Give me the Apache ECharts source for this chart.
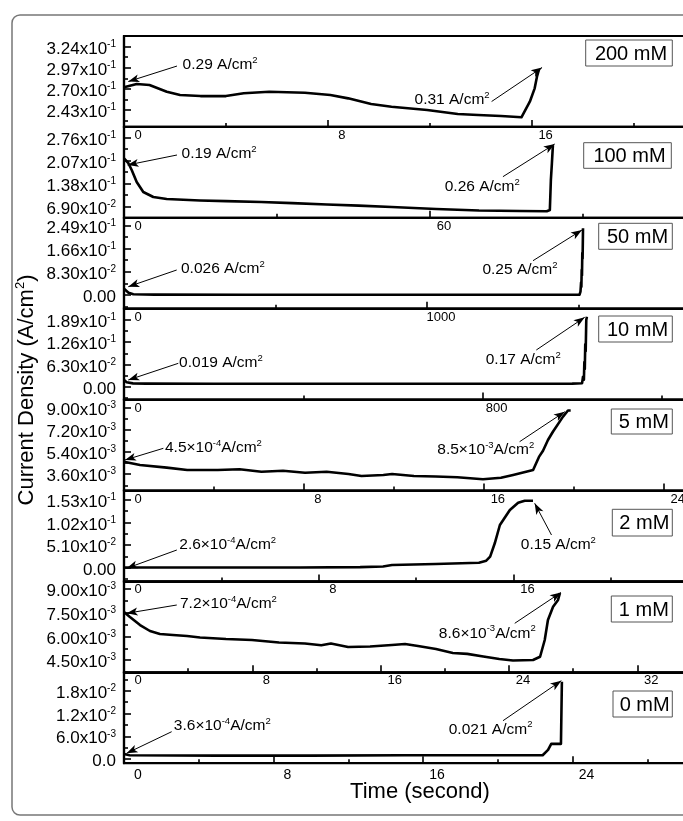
<!DOCTYPE html>
<html><head><meta charset="utf-8">
<script src="https://cdn.jsdelivr.net/npm/echarts@6/dist/echarts.min.js"></script>
<style>html,body{margin:0;padding:0;background:#fff;}#c{width:683px;height:821px;}</style>
</head><body><div id="c"></div>
<script>
const FONT = "'Liberation Sans', Arial, Helvetica, sans-serif";

const concLabels = ['200 mM','100 mM','50 mM','10 mM','5 mM','2 mM','1 mM','0 mM'];

// ---- 200 mM ----
const time200 = [0, 0.5, 1.0, 1.68, 2.2, 3.0, 4.0, 4.7, 5.7, 7.1, 8.1, 8.8, 9.7, 10.5, 11.9, 13.1, 13.9, 14.8, 15.6, 15.93, 16.12, 16.21, 16.29];
const dens200 = [0.2721, 0.2763, 0.2750, 0.2665, 0.2623, 0.2610, 0.2610, 0.2645, 0.2665, 0.2653, 0.2623, 0.2581, 0.2509, 0.2475, 0.2433, 0.2382, 0.2369, 0.2356, 0.2340, 0.2538, 0.2708, 0.2856, 0.2950];
const yRange200 = [0.2218, 0.3374];
const yTicks200 = [0.243, 0.270, 0.297, 0.324];
const yMinor200 = [0.2295, 0.2565, 0.2835, 0.3105];
const yLabels200 = ['2.43x10^{-1}', '2.70x10^{-1}', '2.97x10^{-1}', '3.24x10^{-1}'];
const xRange200 = [0, 22.61];
const xTicks200 = [0, 8, 16];
const xMinor200 = [4, 12, 20];
const notes200 = [
  {text: '0.29 A/cm^{2}', at: [2.28, 0.3005], align: 'left', from: [2.08, 0.2992], to: [0.17, 0.2795]},
  {text: '0.31 A/cm^{2}', at: [14.37, 0.2560], align: 'right', from: [14.43, 0.2541], to: [16.41, 0.2973]}
];

// ---- 100 mM ----
const time100 = [0, 0.84, 1.51, 2.49, 3.78, 5.75, 8.37, 14.9, 20, 26.9, 33, 39.8, 46, 52.5, 61.2, 69.6, 77.6, 82.9, 83.5, 83.7, 83.9, 84.1];
const dens100 = [0.2136, 0.1995, 0.1785, 0.1425, 0.1125, 0.0975, 0.0915, 0.0870, 0.0850, 0.0825, 0.0790, 0.0750, 0.0715, 0.0675, 0.0615, 0.0570, 0.0555, 0.0546, 0.0585, 0.1485, 0.1986, 0.2532];
const yRange100 = [0.0351, 0.3078];
const yTicks100 = [0.069, 0.138, 0.207, 0.276];
const yMinor100 = [0.1035, 0.1725, 0.2415];
const yLabels100 = ['6.90x10^{-2}', '1.38x10^{-1}', '2.07x10^{-1}', '2.76x10^{-1}'];
const xRange100 = [0, 112.94];
const xTicks100 = [0, 60];
const xMinor100 = [30, 90];
const notes100 = [
  {text: '0.19 A/cm^{2}', at: [11.18, 0.2265], align: 'left', from: [10.39, 0.2235], to: [0.69, 0.1935]},
  {text: '0.26 A/cm^{2}', at: [77.7, 0.1284], align: 'right', from: [74.3, 0.1584], to: [84.45, 0.2565]}
];

// ---- 50 mM ----
const time50 = [0, 3, 15, 31, 100, 400, 800, 1200, 1504, 1507, 1509, 1510, 1511, 1512, 1513, 1514, 1515.4];
const dens50 = [0.022, 0.020, 0.008, 0.0025, 0.0015, 0.001, 0.001, 0.001, 0.001, 0.012, 0.045, 0.03, 0.09, 0.07, 0.15, 0.13, 0.239];
const yRange50 = [-0.0491, 0.2766];
const yTicks50 = [0, 0.083, 0.166, 0.249];
const yMinor50 = [-0.0415, 0.0415, 0.1245, 0.2075];
const yLabels50 = ['0.00', '8.30x10^{-2}', '1.66x10^{-1}', '2.49x10^{-1}'];
const xRange50 = [0, 1901.6];
const xTicks50 = [0, 1000];
const xMinor50 = [500, 1500];
const notes50 = [
  {text: '0.026 A/cm^{2}', at: [186.5, 0.0932], align: 'left', from: [174, 0.0896], to: [14.2, 0.0298]},
  {text: '0.25 A/cm^{2}', at: [1432.8, 0.0896], align: 'right', from: [1350.3, 0.1229], to: [1512, 0.2329]}
];

// ---- 10 mM ----
const time10 = [0, 6, 20, 50, 200, 500, 800, 1000, 1022, 1024, 1026, 1027, 1028, 1029, 1030, 1031.3, 1032.7];
const dens10 = [0.019, 0.0125, 0.0095, 0.0088, 0.0085, 0.0085, 0.0085, 0.0088, 0.010, 0.028, 0.02, 0.07, 0.05, 0.12, 0.10, 0.1885, 0.1978];
const yRange10 = [-0.0364, 0.2204];
const yTicks10 = [0, 0.063, 0.126, 0.189];
const yMinor10 = [-0.0315, 0.0315, 0.0945, 0.1575];
const yLabels10 = ['0.00', '6.30x10^{-2}', '1.26x10^{-1}', '1.89x10^{-1}'];
const xRange10 = [0, 1285];
const xTicks10 = [0, 800];
const xMinor10 = [400, 1200];
const notes10 = [
  {text: '0.019 A/cm^{2}', at: [121.8, 0.0670], align: 'left', from: [121.1, 0.0661], to: [9.6, 0.0190]},
  {text: '0.17 A/cm^{2}', at: [975.6, 0.0755], align: 'right', from: [919.8, 0.1037], to: [1027.8, 0.1961]}
];

// ---- 5 mM ----
const time5 = [0, 0.71, 1.9, 2.81, 4.17, 5.14, 6.11, 7.07, 8.05, 9.01, 9.98, 10.56, 11.53, 11.92, 12.89, 13.86, 14.82, 15.96, 16.76, 17.3, 18.19, 18.45, 18.63, 18.85, 19.07, 19.52, 19.74, 19.86];
const dens5 = [0.00461, 0.00435, 0.00413, 0.00394, 0.00394, 0.00400, 0.00380, 0.00388, 0.00372, 0.00380, 0.00362, 0.00345, 0.00354, 0.00362, 0.00345, 0.00341, 0.00335, 0.00319, 0.00331, 0.00354, 0.00394, 0.00500, 0.00550, 0.00637, 0.00704, 0.00826, 0.00876, 0.00876];
const yRange5 = [0.00228, 0.00964];
const yTicks5 = [0.0036, 0.0054, 0.0072, 0.009];
const yMinor5 = [0.0027, 0.0045, 0.0063, 0.0081];
const yLabels5 = ['3.60x10^{-3}', '5.40x10^{-3}', '7.20x10^{-3}', '9.00x10^{-3}'];
const xRange5 = [0, 25.61];
const xTicks5 = [0, 8, 16, 24];
const xMinor5 = [4, 12, 20];
const notes5 = [
  {text: '4.5×10^{-4}A/cm^{2}', at: [1.80, 0.005762], align: 'left', from: [1.75, 0.005697], to: [0.044, 0.00475]},
  {text: '8.5×10^{-3}A/cm^{2}', at: [18.26, 0.00556], align: 'right', from: [17.59, 0.006232], to: [19.6, 0.00866]}
];

// ---- 2 mM ----
const time2 = [0, 3.12, 7.23, 9.7, 10.64, 11.01, 12.8, 14.58, 14.88, 15.04, 15.23, 15.44, 15.85, 16.19, 16.46, 16.8];
const dens2 = [0.0003, 0.0003, 0.0005, 0.0012, 0.0027, 0.0061, 0.0084, 0.0113, 0.0158, 0.0248, 0.0550, 0.0962, 0.1300, 0.1465, 0.1510, 0.1510];
const yRange2 = [-0.0309, 0.1740];
const yTicks2 = [0, 0.051, 0.102, 0.153];
const yMinor2 = [-0.0255, 0.0255, 0.0765, 0.1275];
const yLabels2 = ['0.00', '5.10x10^{-2}', '1.02x10^{-1}', '1.53x10^{-1}'];
const xRange2 = [0, 23.66];
const xTicks2 = [0, 8, 16];
const xMinor2 = [4, 12, 20];
const notes2 = [
  {text: '2.6×10^{-4}A/cm^{2}', at: [2.25, 0.0512], align: 'left', from: [2.17, 0.0399], to: [0.11, -0.00135]},
  {text: '0.15 A/cm^{2}', at: [16.28, 0.0512], align: 'left', from: [17.56, 0.0737], to: [16.87, 0.1451]}
];

// ---- 1 mM ----
const time1 = [0, 0.37, 1.0, 1.62, 2.24, 3.05, 3.93, 4.74, 6.36, 7.98, 9.66, 11.28, 12.3, 12.9, 13.97, 15.34, 16.7, 17.52, 18.33, 19.45, 20.5, 21.4, 22.4, 23.4, 24.25, 25.5, 25.94, 26.23, 26.43, 26.75, 27.06, 27.18];
const dens1 = [0.00756, 0.00724, 0.00673, 0.00635, 0.00616, 0.00610, 0.00603, 0.00594, 0.00584, 0.00578, 0.00562, 0.00556, 0.00545, 0.00556, 0.00534, 0.00537, 0.00546, 0.00553, 0.00540, 0.00521, 0.00496, 0.00490, 0.00473, 0.00458, 0.00448, 0.00451, 0.00472, 0.00578, 0.00705, 0.00789, 0.00832, 0.00876];
const yRange1 = [0.003733, 0.009494];
const yTicks1 = [0.0045, 0.006, 0.0075, 0.009];
const yMinor1 = [0.00375, 0.00525, 0.00675, 0.00825];
const yLabels1 = ['4.50x10^{-3}', '6.00x10^{-3}', '7.50x10^{-3}', '9.00x10^{-3}'];
const xRange1 = [0, 35.91];
const xTicks1 = [0, 8, 16, 24, 32];
const xMinor1 = [4, 12, 20, 28];
const notes1 = [
  {text: '7.2×10^{-4}A/cm^{2}', at: [3.46, 0.008062], align: 'left', from: [3.29, 0.007998], to: [0.17, 0.007472]},
  {text: '8.6×10^{-3}A/cm^{2}', at: [25.7, 0.006205], align: 'right', from: [24.36, 0.006838], to: [27.24, 0.008791]}
];

// ---- 0 mM ----
const time0 = [0, 0.3, 5, 10, 15, 20, 22.4, 22.69, 22.86, 23.38, 23.43];
const dens0 = [0.0013, 0.0010, 0.0009, 0.0009, 0.0010, 0.0010, 0.0010, 0.0024, 0.0040, 0.0040, 0.0204];
const yRange0 = [-0.00111, 0.02288];
const yTicks0 = [0, 0.006, 0.012, 0.018];
const yMinor0 = [0.003, 0.009, 0.015, 0.021];
const yLabels0 = ['0.0', '6.0x10^{-3}', '1.2x10^{-2}', '1.8x10^{-2}'];
const xRange0 = [0, 30.82];
const xTicks0 = [0, 8, 16, 24];
const xMinor0 = [4, 12, 20, 28];
const notes0 = [
  {text: '3.6×10^{-4}A/cm^{2}', at: [2.64, 0.008656], align: 'left', from: [2.55, 0.007204], to: [0.14, 0.001504]},
  {text: '0.021 A/cm^{2}', at: [21.88, 0.007838], align: 'right', from: [20.28, 0.010107], to: [23.4, 0.020663]}
];

// ---- layout (not data) ----
const LEFT = 124, WIDTH = 576, TOP0 = 36, PH = 90.9;
const boxPos = [[585.7,40,672.3,66],[583.7,142.7,671.3,168.3],[598.7,223.3,672.3,249.3],[598.7,316,672.3,342],[611.3,409,672.3,434],[612.3,509.3,672.3,536],[611.3,596,672.3,622],[613,691,672.3,717]];

const panels = [
  {time: time200, dens: dens200, yr: yRange200, yt: yTicks200, ym: yMinor200, yl: yLabels200, xr: xRange200, xt: xTicks200, xm: xMinor200, notes: notes200},
  {time: time100, dens: dens100, yr: yRange100, yt: yTicks100, ym: yMinor100, yl: yLabels100, xr: xRange100, xt: xTicks100, xm: xMinor100, notes: notes100},
  {time: time50, dens: dens50, yr: yRange50, yt: yTicks50, ym: yMinor50, yl: yLabels50, xr: xRange50, xt: xTicks50, xm: xMinor50, notes: notes50},
  {time: time10, dens: dens10, yr: yRange10, yt: yTicks10, ym: yMinor10, yl: yLabels10, xr: xRange10, xt: xTicks10, xm: xMinor10, notes: notes10},
  {time: time5, dens: dens5, yr: yRange5, yt: yTicks5, ym: yMinor5, yl: yLabels5, xr: xRange5, xt: xTicks5, xm: xMinor5, notes: notes5},
  {time: time2, dens: dens2, yr: yRange2, yt: yTicks2, ym: yMinor2, yl: yLabels2, xr: xRange2, xt: xTicks2, xm: xMinor2, notes: notes2},
  {time: time1, dens: dens1, yr: yRange1, yt: yTicks1, ym: yMinor1, yl: yLabels1, xr: xRange1, xt: xTicks1, xm: xMinor1, notes: notes1},
  {time: time0, dens: dens0, yr: yRange0, yt: yTicks0, ym: yMinor0, yl: yLabels0, xr: xRange0, xt: xTicks0, xm: xMinor0, notes: notes0}
];

function toRich(str) {
  const parts = str.split(/\^\{([^}]*)\}/);
  return parts.map((p, i) => p === '' ? '' : (i % 2 ? '{s|' + p + '}' : '{m|' + p + '}')).join('');
}

const tickRich = {
  m: {fontSize: 17, fontFamily: FONT, color: '#000', lineHeight: 20},
  s: {fontSize: 10, fontFamily: FONT, color: '#000', verticalAlign: 'top', lineHeight: 11}
};
const noteRich = {
  m: {fontSize: 15.5, fontFamily: FONT, color: '#000', lineHeight: 19},
  s: {fontSize: 9.5, fontFamily: FONT, color: '#000', verticalAlign: 'top', lineHeight: 10}
};

const grid = [], xAxis = [], yAxis = [], series = [];
const black = '#000';
panels.forEach((p, i) => {
  const isLast = i === panels.length - 1;
  grid.push({left: LEFT, top: TOP0 + i * PH, width: WIDTH, height: PH, show: true,
    borderColor: black, borderWidth: 2.2, backgroundColor: 'transparent', containLabel: false, outerBoundsMode: 'none'});
  xAxis.push({type: 'value', gridIndex: i, min: p.xr[0], max: p.xr[1], position: 'bottom',
    axisLine: {show: true, onZero: false, lineStyle: {color: black, width: 2.2}},
    splitLine: {show: false},
    axisTick: {show: true, inside: true, length: 7, lineStyle: {color: black, width: 1.6}, customValues: p.xt},
    axisLabel: {show: true, customValues: p.xt, formatter: v => String(Math.round(v)), color: black,
      fontFamily: FONT, fontSize: isLast ? 14 : 13, margin: isLast ? 5 : 2, padding: [0, 0, 0, 28], hideOverlap: false,
      showMinLabel: true, showMaxLabel: true}
  });
  xAxis.push({type: 'value', gridIndex: i, min: p.xr[0], max: p.xr[1], position: 'bottom',
    axisLine: {show: false, onZero: false}, splitLine: {show: false},
    axisTick: {show: true, inside: true, length: 4, lineStyle: {color: black, width: 1.6}, customValues: p.xm},
    axisLabel: {show: false}
  });
  const tol = (p.yr[1] - p.yr[0]) * 1e-4;
  yAxis.push({type: 'value', gridIndex: i, min: p.yr[0], max: p.yr[1], position: 'left',
    axisLine: {show: true, onZero: false, lineStyle: {color: black, width: 2.2}},
    splitLine: {show: false},
    axisTick: {show: true, inside: true, length: 7, lineStyle: {color: black, width: 1.6}, customValues: p.yt},
    axisLabel: {show: true, customValues: p.yt, margin: 8, padding: [5, 0, 0, 0], hideOverlap: false,
      formatter: v => {
        for (let k = 0; k < p.yt.length; k++) if (Math.abs(p.yt[k] - v) < tol) return toRich(p.yl[k]);
        return '';
      },
      rich: tickRich, color: black, fontFamily: FONT, fontSize: 17}
  });
  yAxis.push({type: 'value', gridIndex: i, min: p.yr[0], max: p.yr[1], position: 'left', offset: 0,
    axisLine: {show: false, onZero: false}, splitLine: {show: false},
    axisTick: {show: true, inside: true, length: 4, lineStyle: {color: black, width: 1.6}, customValues: p.ym},
    axisLabel: {show: false}
  });
  series.push({
    type: 'line', xAxisIndex: 2 * i, yAxisIndex: 2 * i,
    data: p.time.map((t, k) => [t, p.dens[k]]),
    showSymbol: false, symbol: 'none', clip: false,
    lineStyle: {color: black, width: 2.6, join: 'round'}, animation: false, silent: true,
    markLine: {
      silent: true, animation: false, symbol: ['none', 'arrow'], symbolSize: [0, 10],
      lineStyle: {color: black, width: 1, type: 'solid'}, label: {show: false},
      emphasis: {disabled: true},
      data: p.notes.map(n => [{coord: n.from, symbol: 'none'}, {coord: n.to, symbol: 'arrow', symbolSize: [6, 11]}])
    },
    markPoint: {
      silent: true, animation: false, symbol: 'rect', symbolSize: 1,
      itemStyle: {color: 'rgba(0,0,0,0)'},
      label: {show: true, rich: noteRich, color: black},
      data: p.notes.map(n => ({coord: n.at, label: {show: true, position: n.align === 'left' ? 'right' : 'left',
        distance: 0, formatter: toRich(n.text), rich: noteRich, color: black}}))
    }
  });
});

const graphic = [
  {type: 'rect', shape: {x: 12, y: 15, width: 720, height: 800, r: 8}, style: {fill: 'none', stroke: '#777', lineWidth: 1.5}, silent: true, z: -1},
  {type: 'text', x: 27, y: 390, rotation: Math.PI / 2, silent: true,
    style: {text: '{a|Current Density (A/cm}{b|2}{a|)}', textAlign: 'center', textVerticalAlign: 'middle',
      rich: {a: {fontSize: 22, fontFamily: FONT, fill: black, lineHeight: 26}, b: {fontSize: 13, fontFamily: FONT, fill: black, verticalAlign: 'top', lineHeight: 13}}}},
  {type: 'text', x: 420, y: 792, silent: true,
    style: {text: 'Time (second)', font: '22px ' + FONT, fill: black, textAlign: 'center', textVerticalAlign: 'middle'}}
];
boxPos.forEach((b, i) => {
  graphic.push({type: 'rect', shape: {x: b[0], y: b[1], width: b[2] - b[0], height: b[3] - b[1]},
    style: {fill: '#fff', stroke: '#555', lineWidth: 1}, silent: true, z: 10});
  graphic.push({type: 'text', x: (b[0] + b[2]) / 2 + 2, y: (b[1] + b[3]) / 2 + 1, silent: true, z: 11,
    style: {text: concLabels[i], font: '20px ' + FONT, fill: black, textAlign: 'center', textVerticalAlign: 'middle'}});
});

const chart = echarts.init(document.getElementById('c'), null, {renderer: 'canvas'});
chart.setOption({backgroundColor: '#fff', animation: false, grid, xAxis, yAxis, series, graphic});
</script>
</body></html>
